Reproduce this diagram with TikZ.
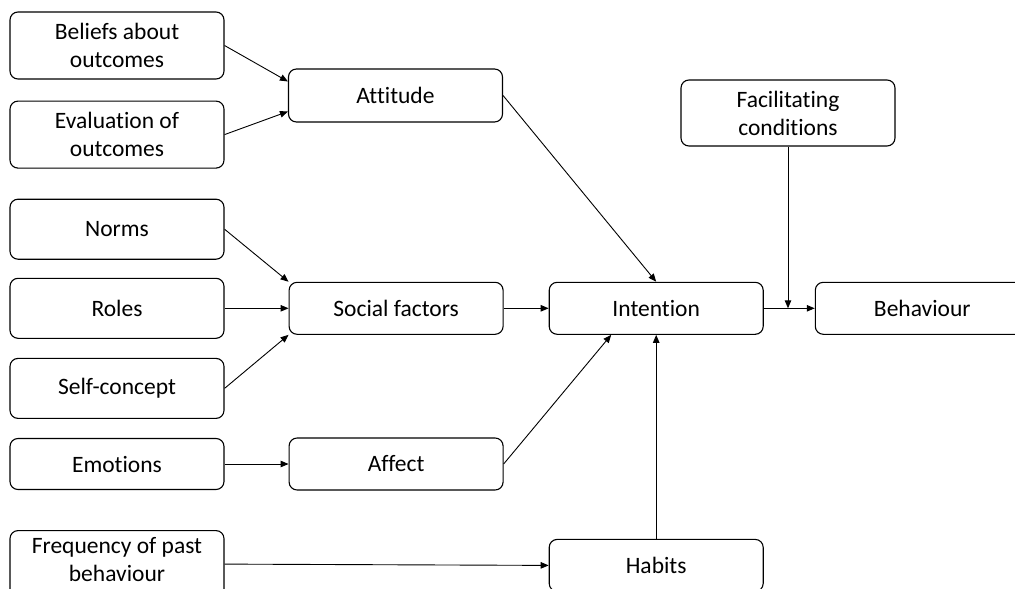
\documentclass[tikz,border=0pt]{standalone}
\usepackage{fontspec}
\setmainfont{Carlito}[Ligatures={NoCommon}]
\usepackage{tikz}
\usetikzlibrary{positioning,arrows.meta}
\tikzstyle{bx}=[%
      rectangle, rounded corners=8pt, draw=black, line width=1.1pt, fill=white,
      align=center, minimum width=214pt, minimum height=52pt, inner sep=0pt,
      font=\fontsize{23.5}{28}\selectfont
]
\tikzstyle{ar}=[%
      -{Triangle[length=8pt,width=6.5pt]}, line width=0.9pt
]

\begin{document}
\begin{tikzpicture}[x=1pt,y=1pt]
\useasboundingbox (0,0) rectangle (1015,-589);
% left column
\node[bx, minimum height=67pt] at (117,-45.5)(beliefs){Beliefs about\\outcomes};
\node[bx, minimum height=67pt, below=21pt of beliefs](eval){Evaluation of\\outcomes};
\node[bx, minimum height=60pt, below=30pt of eval](norms){Norms};
\node[bx, minimum height=60pt, below=18pt of norms](roles){Roles};
\node[bx, minimum height=60pt, below=19pt of roles](self){Self-concept};
\node[bx, minimum height=51pt, below=19pt of self](emotions){Emotions};
\node[bx, minimum height=67pt, text depth=10pt, below=40pt of emotions](freq){Frequency of past\\behaviour};

% middle and right
\node[bx, minimum height=53pt] at (395.5,-95.5)(attitude){Attitude};
\node[bx, right=64pt of roles](social){Social factors};
\node[bx, right=64pt of emotions](affect){Affect};
\node[bx, right=45pt of social](intention){Intention};
\node[bx, below=204pt of intention](habits){Habits};
\node[bx, right=51pt of intention](behaviour){Behaviour};
\node[bx, minimum height=66pt] at (788,-113)(facil){Facilitating\\conditions};

\draw[ar](beliefs.east) -- ([yshift=14pt]attitude.west);
\draw[ar](eval.east) -- ([yshift=-16pt]attitude.west);
\draw[ar](attitude.east) -- (intention.north);
\draw[ar](norms.east) -- (social.north west);
\draw[ar](roles) -- (social);
\draw[ar](self.east) -- (social.south west);
\draw[ar](social) -- (intention);
\draw[ar](emotions) -- (affect);
\draw[ar](affect.east) -- ([xshift=-45pt]intention.south);
\draw[ar](freq.east) -- (habits.west);
\draw[ar](habits) -- (intention);
\draw[ar](intention) -- (behaviour);
\coordinate (fc) at (facil.south |- intention.east);
\draw[ar](facil) -- (fc);
\end{tikzpicture}
\end{document}
